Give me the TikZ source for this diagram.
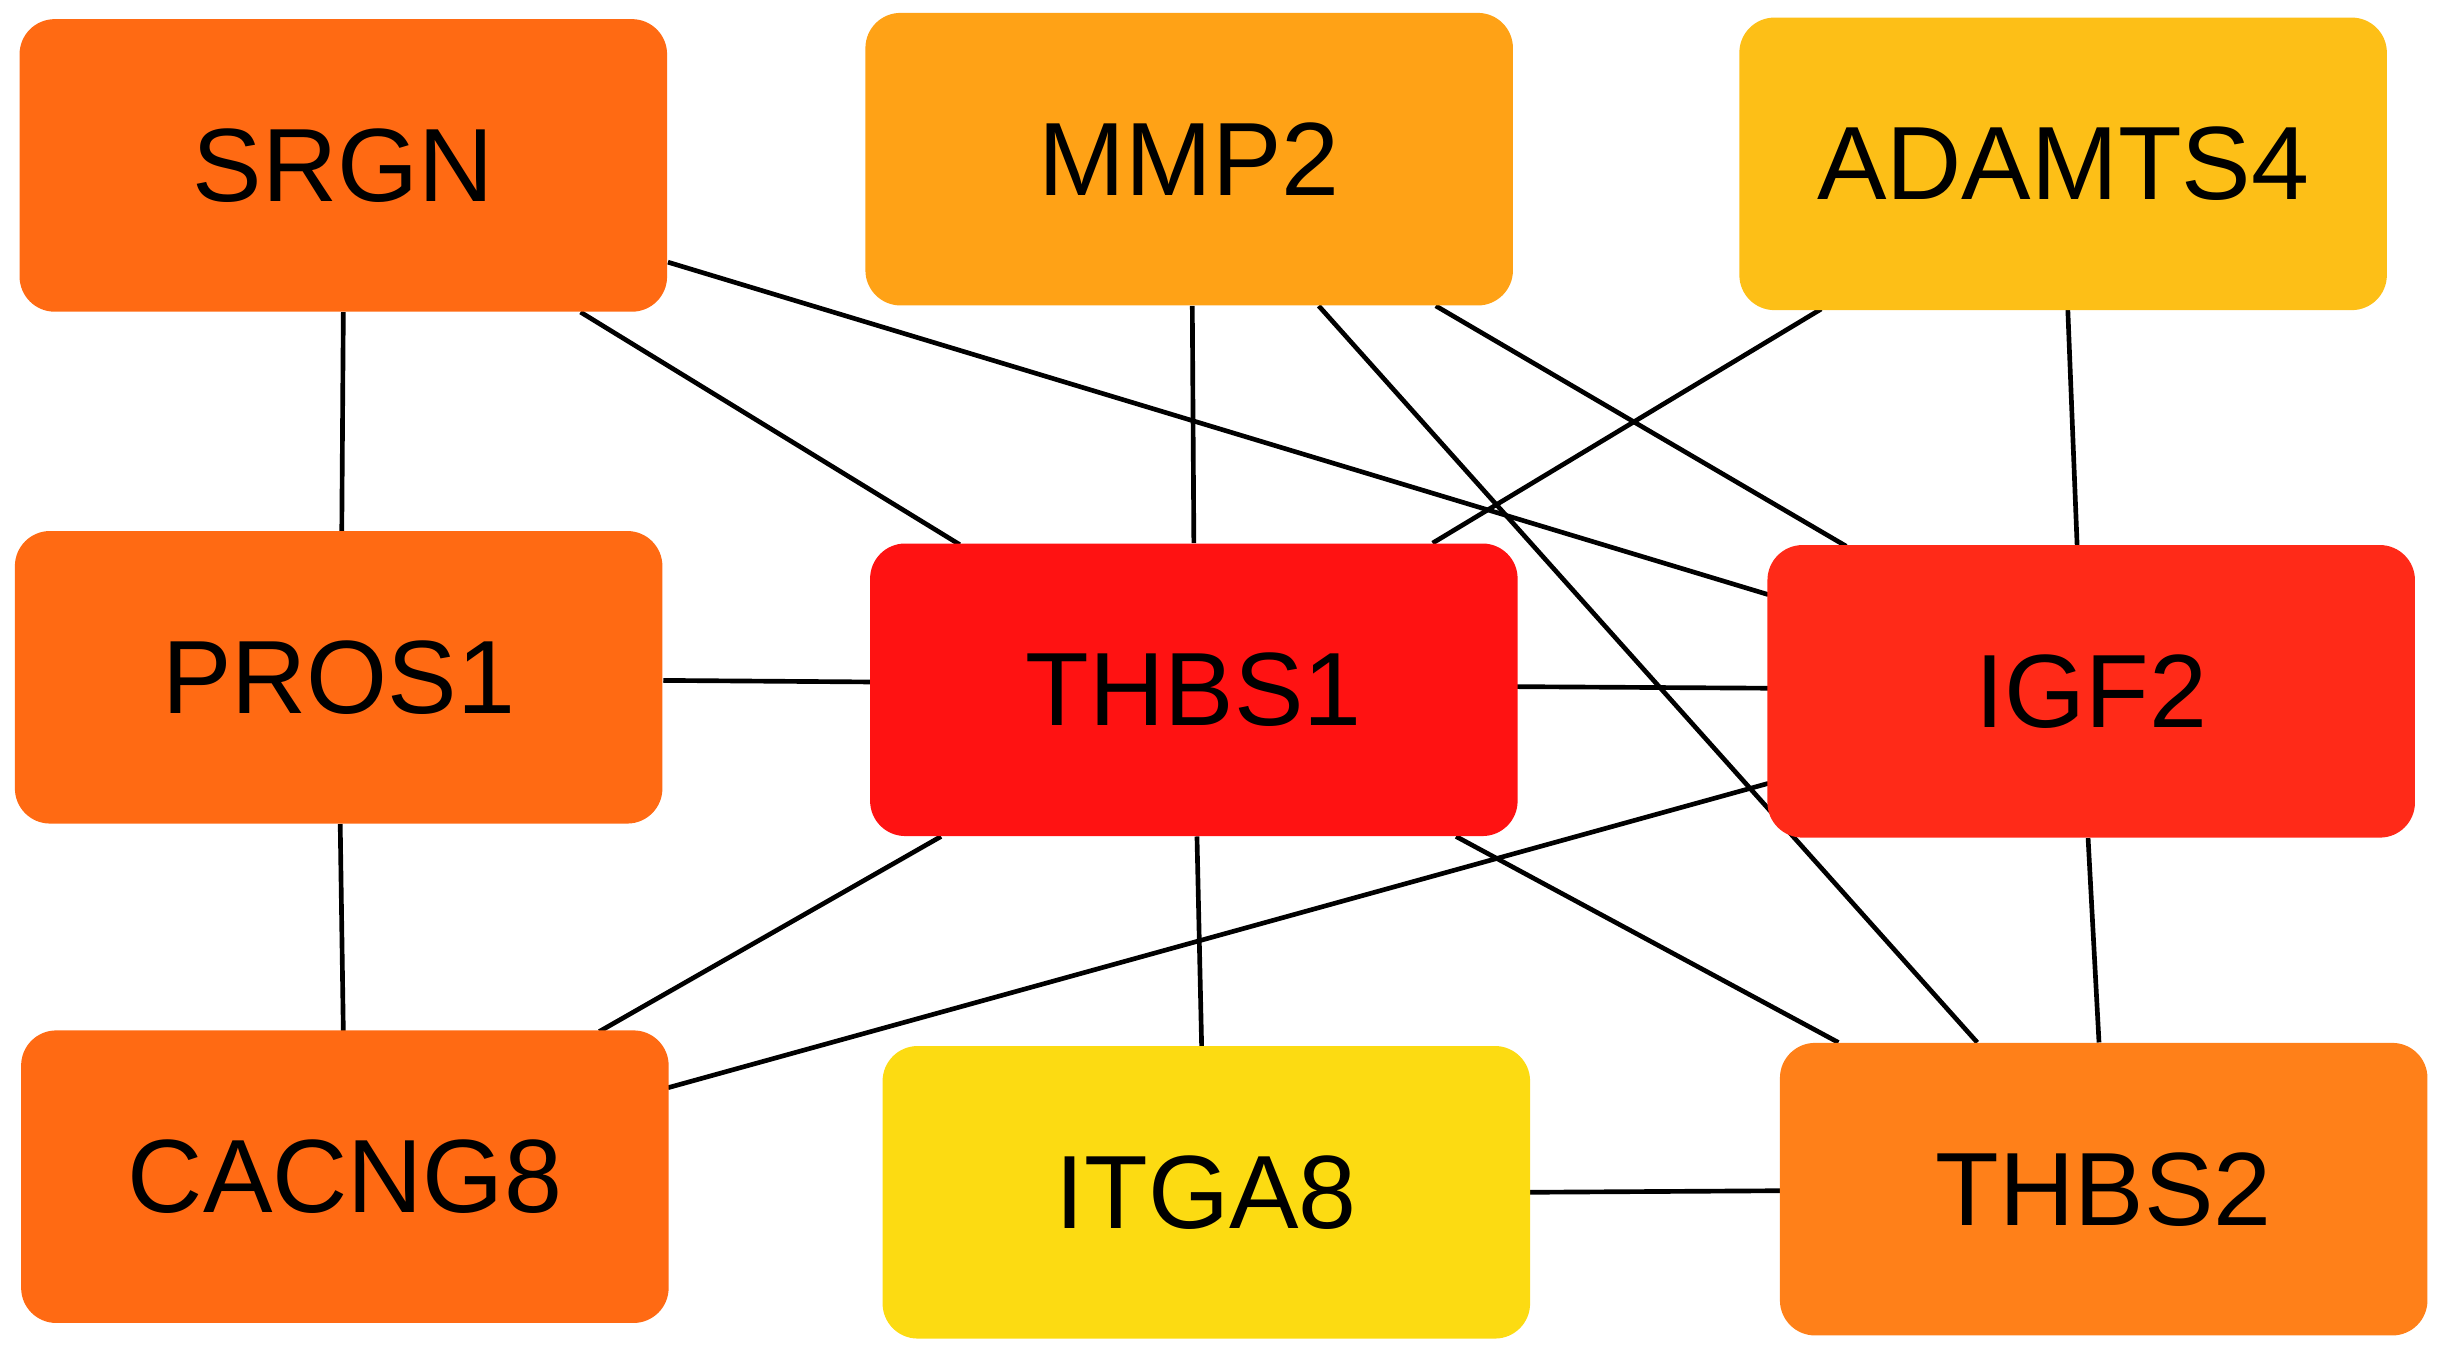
\documentclass[tikz,border=0pt]{standalone}
\usepackage{fontspec}
\setmainfont{Liberation Sans}
\usetikzlibrary{calc,backgrounds}
\definecolor{cOr}{HTML}{FF6A13}
\definecolor{cMm}{HTML}{FFA216}
\definecolor{cAd}{HTML}{FDBF17}
\definecolor{cTa}{HTML}{FF1212}
\definecolor{cIg}{HTML}{FF2A18}
\definecolor{cIt}{HTML}{FCDB12}
\definecolor{cTb}{HTML}{FF8019}
\tikzset{gene/.style={rounded corners=0.45cm,minimum width=8.3cm,minimum height=3.75cm,inner sep=0pt,font=\fontsize{38}{40}\selectfont},
link/.style={line width=1.7pt,black}}
\begin{document}
\begin{tikzpicture}[x=0.02cm,y=-0.02cm]
\useasboundingbox (0,0) rectangle (1568,864);
\node[gene,fill=cOr] (S) at (220,106) {SRGN};
\node[gene,fill=cMm] (M) at (762,102) {MMP2};
\node[gene,fill=cAd] (A) at (1322,105) {ADAMTS4};
\node[gene,fill=cOr] (P) at (217,434) {PROS1};
\node[gene,fill=cTa] (T1) at (765,442) {THBS1};
\node[gene,fill=cIg] (I) at (1340,443) {IGF2};
\node[gene,fill=cOr] (C) at (221,754) {CACNG8};
\node[gene,fill=cIt] (G) at (773,764) {ITGA8};
\node[gene,fill=cTb] (T2) at (1348,762) {THBS2};
\begin{scope}[on background layer]
\draw[link] ($(S)+(0,94)$) -- ($(P)+(2,-93)$);
\draw[link] ($(S)+(152,94)$) -- ($(T1)+(-150,-93)$);
\draw[link] ($(S)+(208,62)$) -- ($(I)+(-207,-62)$);
\draw[link] ($(M)+(2,94)$) -- ($(T1)+(0,-94)$);
\draw[link] ($(M)+(158,94)$) -- ($(I)+(-157,-93)$);
\draw[link] ($(M)+(83,94)$) -- ($(T2)+(-81,-94)$);
\draw[link] ($(A)+(-155,93)$) -- ($(T1)+(153,-94)$);
\draw[link] ($(A)+(3,93)$) -- ($(I)+(-9,-93)$);
\draw[link] ($(P)+(208,2)$) -- ($(T1)+(-207,-5)$);
\draw[link] ($(P)+(1,94)$) -- ($(C)+(-1,-93)$);
\draw[link] ($(T1)+(207,-2)$) -- ($(I)+(-207,-2)$);
\draw[link] ($(T1)+(-162,94)$) -- ($(C)+(163,-93)$);
\draw[link] ($(T1)+(2,94)$) -- ($(G)+(-3,-93)$);
\draw[link] ($(T1)+(168,94)$) -- ($(T2)+(-170,-94)$);
\draw[link] ($(I)+(-207,59)$) -- ($(C)+(207,-57)$);
\draw[link] ($(I)+(-2,94)$) -- ($(T2)+(-3,-94)$);
\draw[link] ($(G)+(207,0)$) -- ($(T2)+(-207,1)$);
\end{scope}
\end{tikzpicture}
\end{document}
